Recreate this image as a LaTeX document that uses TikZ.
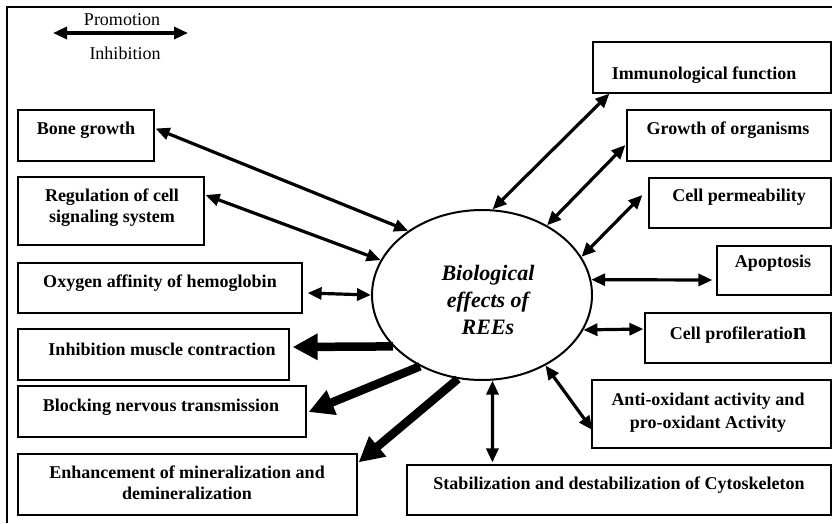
\documentclass[tikz,border=0pt]{standalone}
\usepackage{fontspec}
\setmainfont{Liberation Serif}
\usetikzlibrary{arrows.meta,shapes.geometric,calc}
\begin{document}
\begin{tikzpicture}[x=1pt,y=-1pt,
 box/.style={draw,line width=1.2pt,rectangle,inner sep=0pt},
 lbl/.style={font=\fontsize{18}{21}\selectfont\bfseries,align=center,inner sep=0pt},
 leg/.style={font=\fontsize{18}{21}\selectfont,inner sep=0pt},
 twohead/.style={line width=3.2pt,{Triangle[length=14pt,width=12pt]}-{Triangle[length=14pt,width=12pt]}},
 fatarrow/.style={line width=8.5pt,-{Triangle[length=25pt,width=25pt]}},
]
\useasboundingbox (0,0) rectangle (832,523);
\draw[line width=1.2pt] (7,523) -- (7,7) -- (832,7);

% legend
\node[leg] (prom) at (122,20) {Promotion};
\node[leg] (inhib) at (125,53) {Inhibition};
\coordinate (legL) at (53,33);
\coordinate (legR) at (188,33);
\draw[twohead] (legL) -- (legR);

% centre
\node[draw,ellipse,line width=2pt,minimum width=220pt,minimum height=170pt,inner sep=0pt] (E) at (482,295) {};
\node[font=\fontsize{22}{27}\selectfont\bfseries\itshape,align=center,inner sep=0pt] (Et) at (488,300) {Biological\\effects of\\REEs};

% boxes left
\node[box,minimum width=136pt,minimum height=51pt] (bone) at (86,135.5) {};
\node[lbl] (boneT) at (86,130) {Bone growth};
\node[box,minimum width=186pt,minimum height=68pt] (reg) at (111,211) {};
\node[lbl] (regT) at (112,208) {Regulation of cell\\signaling system};
\node[box,minimum width=284pt,minimum height=50pt] (oxy) at (160,288) {};
\node[lbl] (oxyT) at (160,283) {Oxygen affinity of hemoglobin};
\node[box,minimum width=271pt,minimum height=51pt] (inh) at (153.5,354.5) {};
\node[lbl] (inhT) at (162,349) {Inhibition muscle contraction};
\node[box,minimum width=288pt,minimum height=51pt] (blk) at (162,411.5) {};
\node[lbl] (blkT) at (161,407) {Blocking nervous transmission};
\node[box,minimum width=339pt,minimum height=61pt] (enh) at (187.5,484.5) {};
\node[lbl] (enhT) at (187,483) {Enhancement of mineralization and\\demineralization};

% boxes right
\node[box,minimum width=424pt,minimum height=50pt] (stab) at (619,490) {};
\node[lbl] (stabT) at (619,485) {Stabilization and destabilization of Cytoskeleton};
\node[box,minimum width=239pt,minimum height=68pt] (anti) at (711.5,414) {};
\node[lbl,font=\fontsize{18}{23}\selectfont\bfseries] (antiT) at (708,413) {Anti-oxidant activity and\\pro-oxidant Activity};
\node[box,minimum width=186pt,minimum height=50pt] (prolif) at (738,338) {};
\node[lbl] (prolifT) at (738,335) {Cell profileratio{\fontsize{24}{24}\selectfont n}};
\node[box,minimum width=114pt,minimum height=49pt] (apop) at (774,270.5) {};
\node[lbl] (apopT) at (773,263) {Apoptosis};
\node[box,minimum width=182pt,minimum height=50pt] (perm) at (740,203) {};
\node[lbl] (permT) at (739,197) {Cell permeability};
\node[box,minimum width=204pt,minimum height=51pt] (growth) at (729,135.5) {};
\node[lbl] (growthT) at (728,130) {Growth of organisms};
\node[box,minimum width=238pt,minimum height=51pt] (immu) at (712,67.5) {};
\node[lbl] (immuT) at (704,75) {Immunological function};

% thin double arrows
\draw[twohead] ($(bone.east)+(1,-7)$) -- (E.139);
\draw[twohead] ($(reg.east)+(1,-16)$) -- (E.161);
\draw[twohead] ($(oxy.east)+(5,5)$) -- (E.180);
\draw[twohead] ($(stab.north west)+(86,-2)$) -- (E.277);
\draw[twohead] ($(anti.west)+(1,16)$) -- (E.312);
\draw[twohead] ($(prolif.west)+(-1,-9)$) -- (E.341);
\draw[twohead] ($(apop.west)+(-4,9.5)$) -- (E.8);
\draw[twohead] ($(perm.west)+(-6,-8)$) -- (E.21);
\draw[twohead] ($(growth.west)+(-1,9.5)$) -- (E.47);
\draw[twohead] ($(immu.south west)+(17,0)$) -- (E.83);

% thick inhibition arrows
\draw[fatarrow] (E.210) -- ($(inh.east)+(3,-7.5)$);
\draw[fatarrow] (E.229) -- ($(blk.east)+(2,0.5)$);
\draw[fatarrow] (E.254) -- ($(enh.north east)+(1,9)$);
\end{tikzpicture}
\end{document}
